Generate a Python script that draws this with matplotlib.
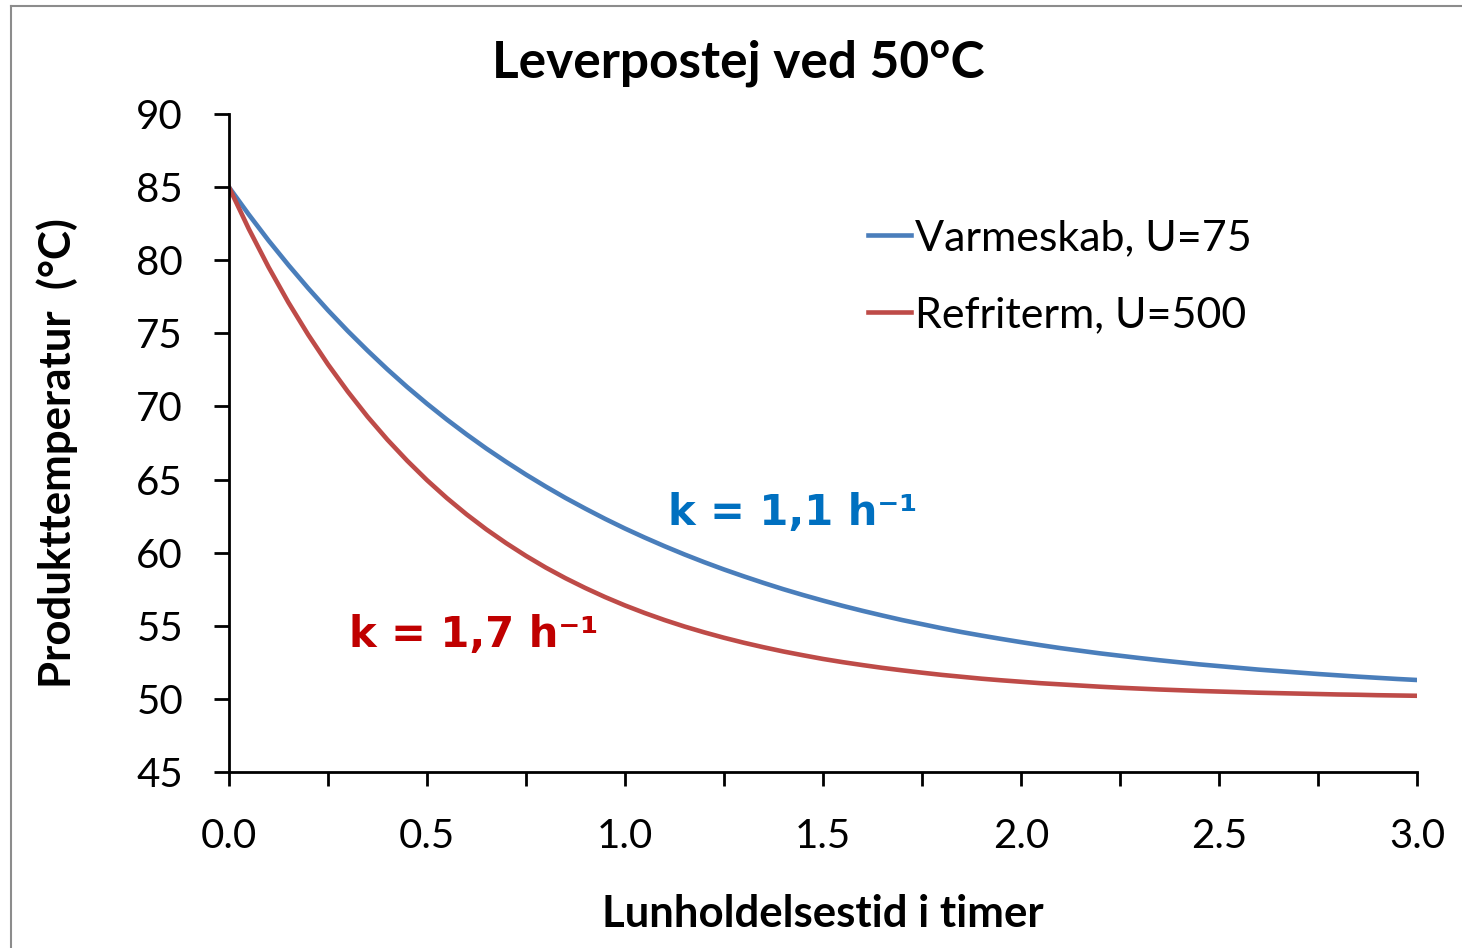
import matplotlib
matplotlib.use('Agg')
import matplotlib.pyplot as plt
from matplotlib.lines import Line2D
from matplotlib.ticker import MultipleLocator

plt.rcParams['font.family'] = ['Lato', 'DejaVu Sans']

# tid i timer
tid = [0.00, 0.05, 0.10, 0.15, 0.20, 0.25, 0.30, 0.35, 0.40, 0.45,
       0.50, 0.55, 0.60, 0.65, 0.70, 0.75, 0.80, 0.85, 0.90, 0.95,
       1.00, 1.05, 1.10, 1.15, 1.20, 1.25, 1.30, 1.35, 1.40, 1.45,
       1.50, 1.55, 1.60, 1.65, 1.70, 1.75, 1.80, 1.85, 1.90, 1.95,
       2.00, 2.05, 2.10, 2.15, 2.20, 2.25, 2.30, 2.35, 2.40, 2.45,
       2.50, 2.55, 2.60, 2.65, 2.70, 2.75, 2.80, 2.85, 2.90, 2.95, 3.00]

# Varmeskab, U=75
varmeskab = [85.00, 83.13, 81.35, 79.68, 78.09, 76.58, 75.16, 73.82, 72.54, 71.33,
             70.19, 69.11, 68.09, 67.12, 66.21, 65.34, 64.52, 63.74, 63.01, 62.31,
             61.65, 61.03, 60.44, 59.88, 59.35, 58.85, 58.38, 57.93, 57.50, 57.10,
             56.72, 56.36, 56.02, 55.70, 55.39, 55.11, 54.83, 54.57, 54.33, 54.10,
             53.88, 53.67, 53.47, 53.29, 53.11, 52.95, 52.79, 52.64, 52.50, 52.36,
             52.24, 52.12, 52.00, 51.90, 51.80, 51.70, 51.61, 51.52, 51.44, 51.36, 51.29]

# Refriterm, U=500
refriterm = [85.00, 82.15, 79.53, 77.12, 74.91, 72.88, 71.02, 69.30, 67.73, 66.29,
             64.96, 63.74, 62.62, 61.59, 60.65, 59.78, 58.98, 58.25, 57.58, 56.96,
             56.39, 55.87, 55.39, 54.95, 54.55, 54.18, 53.84, 53.53, 53.24, 52.98,
             52.73, 52.51, 52.31, 52.12, 51.95, 51.79, 51.64, 51.51, 51.38, 51.27,
             51.17, 51.07, 50.99, 50.91, 50.83, 50.76, 50.70, 50.64, 50.59, 50.54,
             50.50, 50.46, 50.42, 50.39, 50.36, 50.33, 50.30, 50.28, 50.25, 50.23, 50.21]

fig = plt.figure(figsize=(14.62, 9.48), dpi=100)
ax = fig.add_axes([0.1566, 0.1857, 0.8126, 0.694])

ax.plot(tid, varmeskab, color='#4a7ebb', lw=3.3, label='Varmeskab, U=75')
ax.plot(tid, refriterm, color='#be4b48', lw=3.3, label='Refriterm, U=500')

ax.set_xlim(0, 3.0)
ax.set_ylim(45, 90)
ax.xaxis.set_major_locator(MultipleLocator(0.5))
ax.xaxis.set_minor_locator(MultipleLocator(0.25))
ax.yaxis.set_major_locator(MultipleLocator(5))
ax.xaxis.set_major_formatter(lambda v, p: f'{v:.1f}')

for s in ['top', 'right']:
    ax.spines[s].set_visible(False)
for s in ['left', 'bottom']:
    ax.spines[s].set_linewidth(2)

ax.tick_params(axis='y', which='major', direction='out', length=11, width=2,
               labelsize=29, pad=22)
ax.tick_params(axis='x', which='both', direction='out', length=10, width=2,
               labelsize=29, pad=23)

ax.set_xlabel('Lunholdelsestid i timer', fontsize=31.5, fontweight='bold', labelpad=28)
ax.set_ylabel('Produkttemperatur  (°C)', fontsize=31.5, fontweight='bold')
ax.yaxis.set_label_coords(-0.127, 0.485)
fig.suptitle('Leverpostej ved 50°C', fontsize=37, fontweight='bold', x=0.505, y=0.958)

ax.legend(loc='upper left', bbox_to_anchor=(0.582, 0.787), bbox_transform=fig.transFigure,
          frameon=False, fontsize=31, handlelength=1.0, handletextpad=0.1,
          labelspacing=0.9, borderaxespad=0)

ax.text(1.109, 62.7, 'k = 1,1 h\u207b\u00b9', color='#0070c0', fontsize=30,
        fontweight='bold', family='DejaVu Sans', ha='left', va='center')
ax.text(0.303, 54.4, 'k = 1,7 h\u207b\u00b9', color='#c00000', fontsize=30,
        fontweight='bold', family='DejaVu Sans', ha='left', va='center')

# ramme rundt om diagrammet
fig.add_artist(Line2D([11 / 1462, 11 / 1462], [0, 1 - 6 / 948], color='#8c8c8c', lw=1.5))
fig.add_artist(Line2D([11 / 1462, 1], [1 - 6 / 948, 1 - 6 / 948], color='#8c8c8c', lw=1.5))

fig.savefig('out.png', dpi=100)
